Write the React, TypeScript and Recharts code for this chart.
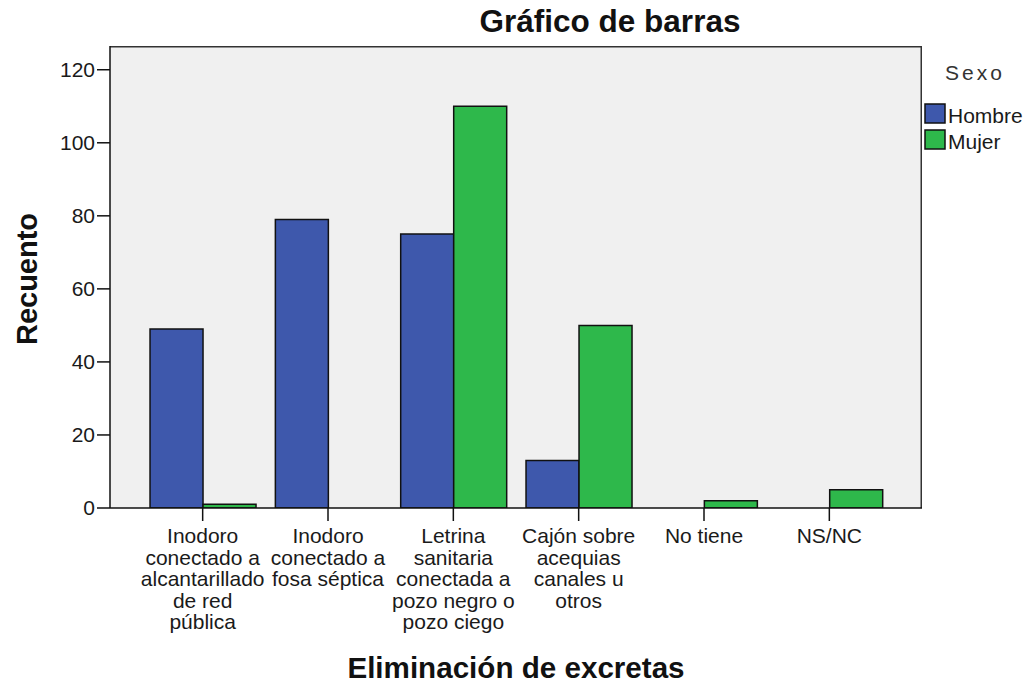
import React from "react";
import { BarChart, Bar, XAxis, YAxis, Legend, CartesianGrid } from "recharts";

const categories = [
  "Inodoro\nconectado a\nalcantarillado\nde red\npública",
  "Inodoro\nconectado a\nfosa séptica",
  "Letrina\nsanitaria\nconectada a\npozo negro o\npozo ciego",
  "Cajón sobre\nacequias\ncanales u\notros",
  "No tiene",
  "NS/NC",
];
const hombre = [49, 79, 75, 13, 0, 0];
const mujer = [1, 0, 110, 50, 2, 5];
const yTicks = [0, 20, 40, 60, 80, 100, 120];

const data = categories.map((c, i) => ({ cat: c, Hombre: hombre[i], Mujer: mujer[i] }));

const FONT = '"Liberation Sans", Arial, sans-serif';
const BLUE = "#3E58AC";
const GREEN = "#2EB84B";

function CatTick(props: any) {
  const { x, y, payload } = props;
  const lines = String(payload.value).split("\n");
  return (
    <text x={x} y={y} textAnchor="middle" fontFamily={FONT} fontSize={21} fill="#1a1a1a">
      {lines.map((l, i) => (
        <tspan key={i} x={x} dy={i === 0 ? 20 : 21.5}>
          {l}
        </tspan>
      ))}
    </text>
  );
}

function LegendBox(props: any) {
  const items = props.payload || [];
  return (
    <svg width={106} height={100} style={{ display: "block", overflow: "visible" }}>
      <text x={23} y={22} fontFamily={FONT} fontSize={21} letterSpacing={3} fill="#333">
        Sexo
      </text>
      {items.map((it: any, i: number) => (
        <g key={it.value}>
          <rect x={3} y={46 + i * 26} width={20} height={19} fill={it.color} stroke="#111" strokeWidth={1.5} />
          <text x={26} y={65 + i * 26} fontFamily={FONT} fontSize={21} fill="#1a1a1a">
            {it.value}
          </text>
        </g>
      ))}
    </svg>
  );
}

export default function App() {
  return (
    <div style={{ position: "absolute", left: 0, top: 0, width: 1028, height: 686, background: "#fff" }}>
      <BarChart
        width={1028}
        height={686}
        data={data}
        margin={{ top: 46, right: 0, bottom: 38, left: 50 }}
        barCategoryGap="8%"
        barGap={0}
      >
        <CartesianGrid
          fill="#F0F0F0"
          fillOpacity={1}
          stroke="#333"
          strokeWidth={1.5}
          horizontalPoints={[46.75]}
          verticalPoints={[921.25]}
        />
        <XAxis
          dataKey="cat"
          interval={0}
          height={140}
          padding={{ left: 30, right: 30 }}
          tick={<CatTick />}
          tickSize={13}
          tickLine={{ stroke: "#111", strokeWidth: 1.5 }}
          axisLine={{ stroke: "#111", strokeWidth: 1.5 }}
        />
        <YAxis
          width={60}
          domain={[0, 126.5]}
          ticks={yTicks}
          allowDataOverflow
          tickSize={13}
          tickMargin={2}
          tick={{ fontFamily: FONT, fontSize: 21, fill: "#1a1a1a" }}
          tickLine={{ stroke: "#111", strokeWidth: 1.5 }}
          axisLine={{ stroke: "#111", strokeWidth: 1.5 }}
        />
        <Legend
          layout="vertical"
          align="right"
          verticalAlign="top"
          content={<LegendBox />}
          wrapperStyle={{ left: 922, top: 58, width: 106 }}
        />
        <Bar dataKey="Hombre" fill={BLUE} stroke="#111" strokeWidth={1.5} isAnimationActive={false} />
        <Bar dataKey="Mujer" fill={GREEN} stroke="#111" strokeWidth={1.5} isAnimationActive={false} />
      </BarChart>
      <svg
        width={1028}
        height={686}
        style={{ position: "absolute", left: 0, top: 0, pointerEvents: "none" }}
      >
        <text x={610} y={32} textAnchor="middle" fontFamily={FONT} fontWeight="bold" fontSize={31.5} fill="#111">
          Gráfico de barras
        </text>
        <text x={516} y={678} textAnchor="middle" fontFamily={FONT} fontWeight="bold" fontSize={29.6} fill="#111">
          Eliminación de excretas
        </text>
        <text
          transform="translate(37,279) rotate(-90)"
          textAnchor="middle"
          fontFamily={FONT}
          fontWeight="bold"
          fontSize={29}
          fill="#111"
        >
          Recuento
        </text>
      </svg>
    </div>
  );
}
